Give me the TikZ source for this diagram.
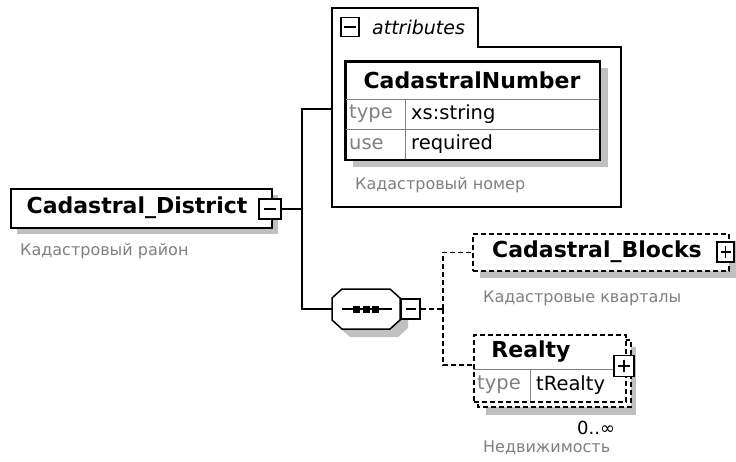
\documentclass[tikz,border=0pt]{standalone}
\usepackage{fontspec}
\setmainfont{DejaVu Sans}
\usetikzlibrary{calc}
\definecolor{shadowgray}{RGB}{192,192,192}
\definecolor{descgray}{RGB}{128,128,128}
\definecolor{cellgray}{RGB}{128,128,128}
\tikzset{
  elembox/.style={draw=black, line width=1.5pt, fill=white, inner sep=0pt},
  optbox/.style={elembox, dash pattern=on 5pt off 3pt},
  shadowfill/.style={fill=shadowgray, draw=none},
  desctext/.style={text=descgray, font=\fontsize{16}{18}\selectfont, anchor=west, inner sep=0pt},
  titletext/.style={font=\fontsize{22}{25}\selectfont\bfseries, inner sep=0pt},
  toggle/.style={draw=black, line width=1.2pt, fill=white, inner sep=0pt},
  conn/.style={line width=1.5pt},
  optconn/.style={line width=1.5pt, dash pattern=on 5pt off 3pt},
  cellline/.style={draw=cellgray, line width=1pt},
  celltext/.style={font=\fontsize{19.5}{22}\selectfont, anchor=west, inner sep=0pt},
  cellkey/.style={celltext, text=descgray},
}
\begin{document}
\begin{tikzpicture}[x=1pt,y=-1pt]
\useasboundingbox[fill=white] (0,0) rectangle (736,461);

% ---------- Cadastral_District ----------
\fill[shadowfill] (17,195) rectangle (278,234);
\node[elembox, minimum width=261pt, minimum height=39pt, anchor=north west] (district) at (10,188) {};
\node[titletext] (districttxt) at (137,208) {Cadastral\_District};
\node[toggle, minimum width=22pt, minimum height=20pt] (dtoggle) at (270,209) {};
\draw[line width=1.2pt] ($(dtoggle.center)+(-6,0)$) -- ($(dtoggle.center)+(6,0)$);
\node[desctext] (districtdesc) at (20,251) {Кадастровый район};

% ---------- attributes group ----------
\draw[line width=1.5pt, fill=white] (332,207) -- (332,8) -- (478,8) -- (478,47) -- (621,47) -- (621,207) -- cycle;
\coordinate (attrjoin) at (332,109);
\node[toggle, line width=1.2pt, minimum width=18pt, minimum height=19pt] (atoggle) at (350,27) {};
\draw[line width=1.2pt] ($(atoggle.center)+(-6,0)$) -- ($(atoggle.center)+(6,0)$);
\node[anchor=west, inner sep=0pt, font=\fontsize{19}{21}\selectfont\itshape] (attrlabel) at (372,27) {attributes};

\fill[shadowfill] (353,68) rectangle (608,167);
\node[elembox, minimum width=254pt, minimum height=98pt, anchor=north west] (cadnum) at (345,61) {};
\draw[cellline] (345,99) -- (599,99);
\draw[cellline] (345,129) -- (599,129);
\draw[cellline] (405,99) -- (405,159);
\draw[line width=1.5pt] (cadnum.north west) rectangle (cadnum.south east);
\node[titletext] (cadnumtxt) at (472,80) {CadastralNumber};
\node[cellkey] (k1) at (349,114) {type};
\node[celltext] (v1) at (411,114) {xs:string};
\node[cellkey] (k2) at (349,144) {use};
\node[celltext] (v2) at (411,144) {required};
\node[desctext] (cadnumdesc) at (355,185) {Кадастровый номер};

% ---------- sequence compositor ----------
\fill[shadowfill] (350,297) -- (398,297) -- (408,306) -- (408,328) -- (398,337) -- (350,337) -- (340,328) -- (340,306) -- cycle;
\node[minimum width=68pt, minimum height=40pt, inner sep=0pt] (seq) at (366,309) {};
\draw[line width=1.5pt, fill=white] (342,289) -- (390,289) -- (400,298) -- (400,320) -- (390,329) -- (342,329) -- (332,320) -- (332,298) -- cycle;
\draw[line width=1.2pt] (342,309) -- (392,309);
\fill (353,305.5) rectangle (360,312.5);
\fill (362.5,305.5) rectangle (369.5,312.5);
\fill (372,305.5) rectangle (379,312.5);
\node[toggle, minimum width=19pt, minimum height=20pt] (seqtoggle) at (410.5,309) {};
\draw[line width=1.2pt] ($(seqtoggle.center)+(-5,0)$) -- ($(seqtoggle.center)+(5,0)$);

% ---------- connectors from district ----------
\coordinate (fork) at (302,209);
\draw[conn] (dtoggle.east) -- (fork);
\draw[conn] (fork) |- (attrjoin);
\draw[conn] (fork) |- (seq.west);

% ---------- Cadastral_Blocks ----------
\fill[shadowfill] (480,241) rectangle (736,278);
\node[optbox, minimum width=256pt, minimum height=37pt, anchor=north west] (blocks) at (472,233) {};
\node[titletext] (blockstxt) at (597,252) {Cadastral\_Blocks};
\node[toggle, minimum width=17pt, minimum height=20pt] (btoggle) at (725.5,252) {};
\draw[line width=1.2pt] ($(btoggle.center)+(-5,0)$) -- ($(btoggle.center)+(5,0)$);
\draw[line width=1.2pt] ($(btoggle.center)+(0,-6)$) -- ($(btoggle.center)+(0,6)$);
\node[desctext] (blocksdesc) at (483,298) {Кадастровые кварталы};

% ---------- Realty ----------
\fill[shadowfill] (486,347) rectangle (636,415);
\draw[optbox] (478,340) rectangle (631,407);
\node[optbox, minimum width=152pt, minimum height=67pt, anchor=north west] (realty) at (473,334) {};
\draw[cellline] (473,369) -- (614,369);
\draw[cellline] (530,369) -- (530,401);
\node[titletext] (realtytxt) at (531,352) {Realty};
\node[cellkey] (k3) at (477,385) {type};
\node[celltext] (v3) at (536,385) {tRealty};
\node[toggle, minimum width=20pt, minimum height=21pt] (rtoggle) at (624,366) {};
\draw[line width=1.2pt] ($(rtoggle.center)+(-6,0)$) -- ($(rtoggle.center)+(6,0)$);
\draw[line width=1.2pt] ($(rtoggle.center)+(0,-6)$) -- ($(rtoggle.center)+(0,6)$);
\node[anchor=west, inner sep=0pt, font=\fontsize{18}{20}\selectfont] (occurs) at (577,428) {0..∞};
\node[desctext] (realtydesc) at (483,448) {Недвижимость};

% ---------- connectors from sequence ----------
\coordinate (seqfork) at (443,309);
\coordinate (realtyjoin) at (473,365);
\draw[optconn] (seqtoggle.east) -- (seqfork);
\draw[optconn] (seqfork) |- (blocks.west);
\draw[optconn] (seqfork) |- (realtyjoin);
\end{tikzpicture}
\end{document}
